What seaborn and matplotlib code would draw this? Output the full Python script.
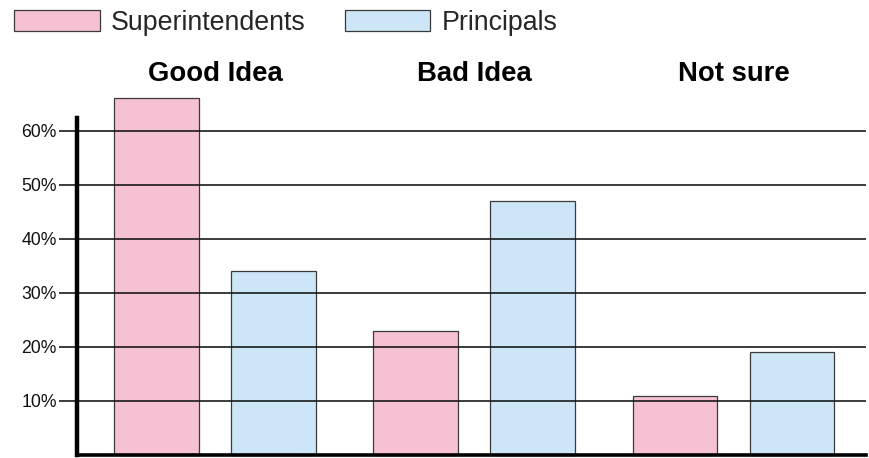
import numpy as np
import pandas as pd
import seaborn as sns
import matplotlib.pyplot as plt
from matplotlib.patches import Patch
from matplotlib.transforms import blended_transform_factory

# -----------------------------
# Data
# -----------------------------
answers = ['Good Idea', 'Bad Idea', 'Not sure']
groups = ['Superintendents', 'Principals']
superintendents = [66, 23, 11]
principals = [34, 47, 19]
y_ticks = [10, 20, 30, 40, 50, 60]
y_tick_labels = ['10%', '20%', '30%', '40%', '50%', '60%']

pink = '#F7C1D4'
blue = '#CCE6F7'

# -----------------------------
# Plot
# -----------------------------
sns.set_style('white')
plt.rcParams['font.family'] = ['Liberation Sans', 'DejaVu Sans']

df = pd.DataFrame({
    'answer': answers * 2,
    'group': [groups[0]] * 3 + [groups[1]] * 3,
    'pct': superintendents + principals,
})

fig = plt.figure(figsize=(8.69, 4.58), dpi=100)
ax = fig.add_axes([77 / 869, 3 / 458, (866 - 77) / 869, (455 - 118) / 458])

sns.barplot(data=df, x='answer', y='pct', hue='group', order=answers, hue_order=groups,
            palette=[pink, blue], width=0.9026, gap=0.274, edgecolor='#3a3a3a', linewidth=0.9,
            saturation=1, legend=False, ax=ax)
for p in ax.patches:
    p.set_clip_on(False)

ax.set_xlim(-0.532, 2.511)
ax.set_ylim(0, 62.35)
ax.set_yticks(y_ticks)
ax.set_yticklabels(y_tick_labels, fontsize=12.7)
ax.set_xticks([])
ax.set_xlabel('')
ax.set_ylabel('')

ax.yaxis.grid(True, color='#1a1a1a', linewidth=1.2)
ax.set_axisbelow(False)
ax.tick_params(axis='y', left=True, length=13, width=1.2, color='#1a1a1a', pad=1.5, labelcolor='#111111')

for side in ['top', 'right']:
    ax.spines[side].set_visible(False)
ax.spines['left'].set_linewidth(3.2)
ax.spines['left'].set_color('black')
ax.spines['bottom'].set_linewidth(2.6)
ax.spines['bottom'].set_color('black')
ax.spines['left'].set_zorder(5)
ax.spines['bottom'].set_zorder(5)

# category titles above groups
trans = blended_transform_factory(ax.transData, fig.transFigure)
for i, label in enumerate(answers):
    ax.text(i, 1 - 74 / 458, label, transform=trans, ha='center', va='center',
            fontsize=19.8, fontweight='bold', color='black')

# legend
handles = [Patch(facecolor=pink, edgecolor='#3a3a3a', linewidth=0.9),
           Patch(facecolor=blue, edgecolor='#3a3a3a', linewidth=0.9)]
fig.legend(handles, groups, loc='upper left', bbox_to_anchor=(14 / 869, 1 - 10 / 458),
           ncol=2, frameon=False, fontsize=19.3, borderaxespad=0, borderpad=0,
           handlelength=3.2, handleheight=0.85, handletextpad=0.42, columnspacing=1.45)

plt.savefig('out.png', dpi=100)
plt.close()
